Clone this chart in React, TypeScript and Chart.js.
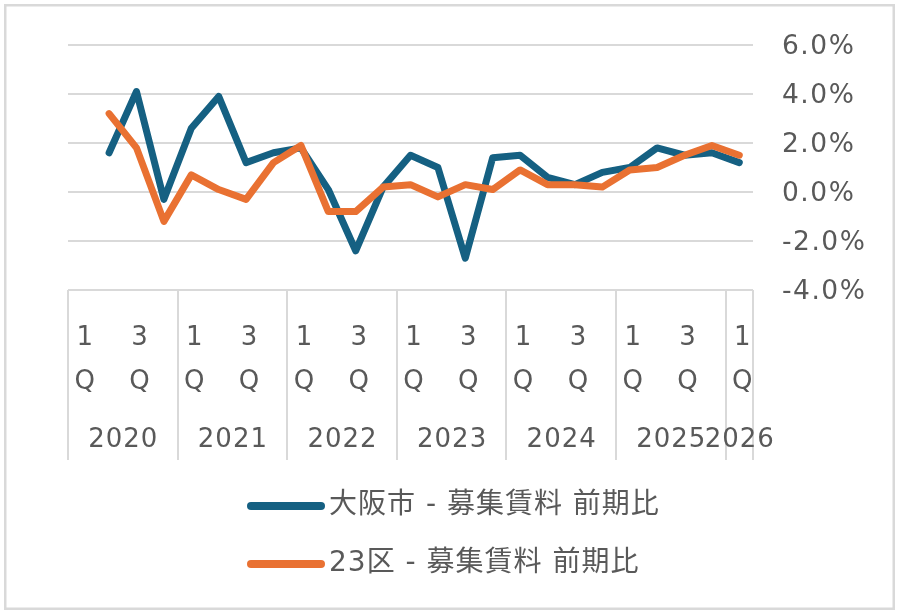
import { useEffect, useRef } from "react";
import { Chart, registerables } from "chart.js";

Chart.register(...registerables);

// Quarterly categories, 2020 1Q .. 2026 1Q
const years = ["2020", "2021", "2022", "2023", "2024", "2025", "2026"];
const quartersInYear = [4, 4, 4, 4, 4, 4, 1];
const quarterLabels = [
  "1Q", "2Q", "3Q", "4Q",
  "1Q", "2Q", "3Q", "4Q",
  "1Q", "2Q", "3Q", "4Q",
  "1Q", "2Q", "3Q", "4Q",
  "1Q", "2Q", "3Q", "4Q",
  "1Q", "2Q", "3Q", "4Q",
  "1Q",
];

// Quarter-on-quarter change of asking rents (%)
const osakaRent = [
  null, 1.6, 4.1, -0.3,
  2.6, 3.9, 1.2, 1.6,
  1.8, 0.1, -2.4, 0.2,
  1.5, 1.0, -2.7, 1.4,
  1.5, 0.6, 0.3, 0.8,
  1.0, 1.8, 1.5, 1.6,
  1.2,
];
const wardsRent = [
  null, 3.2, 1.8, -1.2,
  0.7, 0.1, -0.3, 1.2,
  1.9, -0.8, -0.8, 0.2,
  0.3, -0.2, 0.3, 0.1,
  0.9, 0.3, 0.3, 0.2,
  0.9, 1.0, 1.5, 1.9,
  1.5,
];

const seriesNames = ["大阪市 - 募集賃料 前期比", "23区 - 募集賃料 前期比"];
const seriesColors = ["#156082", "#E97132"];

const yMin = -4;
const yMax = 6;
const yStep = 2;

const TEXT = "#595959";
const GRID = "#d9d9d9";
const FONT = "'DejaVu Sans', 'Noto Sans CJK JP', sans-serif";

const decorations = {
  id: "decorations",
  beforeDraw(chart: any) {
    const { ctx, width, height } = chart;
    ctx.save();
    ctx.fillStyle = "#ffffff";
    ctx.fillRect(0, 0, width, height);
    ctx.strokeStyle = GRID;
    ctx.lineWidth = 2.5;
    ctx.strokeRect(5.25, 5.25, width - 11.5, height - 11.5);
    ctx.restore();
    // slightly wider tracking for the value axis labels
    ctx.letterSpacing = "1.5px";
  },
  afterDraw(chart: any) {
    const { ctx, chartArea } = chart;
    const xs = chart.scales.x;
    const step = xs.getPixelForValue(1) - xs.getPixelForValue(0);
    const edge = (k: number) => xs.getPixelForValue(k) - step / 2;
    const bottom = chartArea.bottom;

    ctx.save();
    // year separators of the two-level category axis
    ctx.strokeStyle = GRID;
    ctx.lineWidth = 2;
    let k = 0;
    const bounds = [0];
    quartersInYear.forEach((n) => {
      k += n;
      bounds.push(k);
    });
    bounds.forEach((b) => {
      const x = Math.round(edge(b));
      ctx.beginPath();
      ctx.moveTo(x, bottom);
      ctx.lineTo(x, bottom + 170);
      ctx.stroke();
    });

    // quarter labels (every other one, wrapped onto two lines)
    ctx.fillStyle = TEXT;
    ctx.font = `26px ${FONT}`;
    ctx.letterSpacing = "0px";
    ctx.textAlign = "center";
    ctx.textBaseline = "middle";
    let idx = 0;
    quartersInYear.forEach((n) => {
      for (let q = 0; q < n; q += 2) {
        const label = quarterLabels[idx + q];
        const x = xs.getPixelForValue(idx + q) + 3;
        ctx.fillText(label.charAt(0), x, bottom + 48);
        ctx.fillText(label.charAt(1), x, bottom + 92);
      }
      idx += n;
    });

    // year labels
    ctx.letterSpacing = "1px";
    years.forEach((y, i) => {
      const x = (edge(bounds[i]) + edge(bounds[i + 1])) / 2;
      ctx.fillText(y, x + 0.5, bottom + 150);
    });

    // legend, stacked vertically
    ctx.textAlign = "left";
    ctx.font = `28px ${FONT}`;
    const legendY = [506, 564];
    seriesNames.forEach((name, i) => {
      const y = legendY[i];
      ctx.strokeStyle = seriesColors[i];
      ctx.lineWidth = 8;
      ctx.lineCap = "round";
      ctx.beginPath();
      ctx.moveTo(251, y);
      ctx.lineTo(321, y);
      ctx.stroke();
      ctx.fillStyle = TEXT;
      ctx.fillText(name, 329, y);
    });
    ctx.restore();
  },
};

export default function App() {
  const canvasRef = useRef<HTMLCanvasElement>(null);

  useEffect(() => {
    if (!canvasRef.current) return;
    const chart = new Chart(canvasRef.current, {
      type: "line",
      data: {
        labels: quarterLabels,
        datasets: [
          {
            label: seriesNames[0],
            data: osakaRent,
            borderColor: seriesColors[0],
            backgroundColor: seriesColors[0],
            borderWidth: 7,
            borderCapStyle: "round",
            borderJoinStyle: "round",
            pointRadius: 0,
            tension: 0,
            order: 1,
          },
          {
            label: seriesNames[1],
            data: wardsRent,
            borderColor: seriesColors[1],
            backgroundColor: seriesColors[1],
            borderWidth: 7,
            borderCapStyle: "round",
            borderJoinStyle: "round",
            pointRadius: 0,
            tension: 0,
            order: 0,
          },
        ],
      },
      options: {
        animation: false,
        responsive: false,
        events: [],
        layout: { padding: { left: 68, top: 45, right: 0, bottom: 325 } },
        plugins: {
          legend: { display: false },
          tooltip: { enabled: false },
        },
        scales: {
          x: {
            type: "category",
            offset: true,
            ticks: { display: false },
            grid: { display: false, drawTicks: false },
            border: { display: false },
            afterFit: (s: any) => {
              s.height = 0;
            },
          },
          y: {
            position: "right",
            min: yMin,
            max: yMax,
            ticks: {
              stepSize: yStep,
              padding: 29,
              labelOffset: 2,
              color: TEXT,
              font: { family: FONT, size: 26.5 },
              callback: (v: any) => `${Number(v).toFixed(1)}%`,
            },
            grid: { color: GRID, lineWidth: 2, drawTicks: false },
            border: { display: false },
            afterFit: (s: any) => {
              s.width = 147;
            },
          },
        },
      },
      plugins: [decorations],
    });
    return () => chart.destroy();
  }, []);

  return (
    <div style={{ position: "absolute", left: 0, top: 0, width: 900, height: 615 }}>
      <canvas ref={canvasRef} width={900} height={615} style={{ display: "block" }} />
    </div>
  );
}
